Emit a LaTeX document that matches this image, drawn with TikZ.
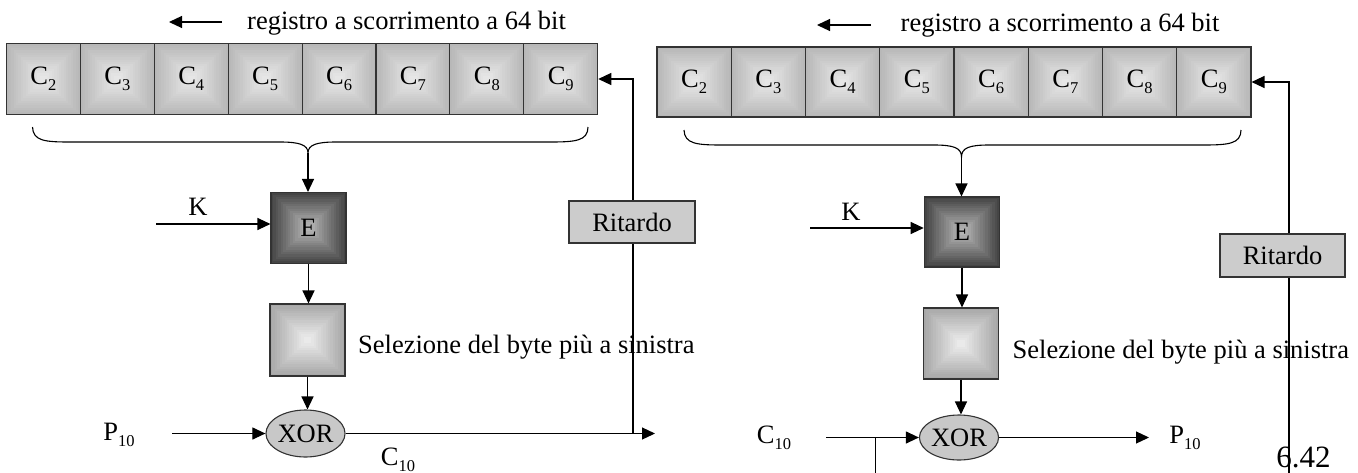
\documentclass[tikz,border=0pt]{standalone}
\usepackage{fontspec}
\setmainfont{Liberation Serif}
\usetikzlibrary{arrows.meta,calc,shapes.geometric}
\definecolor{regout}{HTML}{B8B8B8}
\definecolor{regin}{HTML}{E6E6E6}
\definecolor{eout}{HTML}{454545}
\definecolor{ein}{HTML}{B4B4B4}
\definecolor{selout}{HTML}{A8A8A8}
\definecolor{selin}{HTML}{EAEAEA}
\definecolor{ritfill}{HTML}{CCCCCC}
\definecolor{xorfill}{HTML}{C8C8C8}
\definecolor{edge}{HTML}{333333}
\newcommand\lsub[1]{\raisebox{-6pt}{\fontsize{16.5}{17}\selectfont #1}}
\tikzset{
  every node/.style={inner sep=0pt, font=\fontsize{26.5}{30}\selectfont},
  arr/.style={line width=1.2pt, -{Triangle[length=13pt,width=12pt]}},
  ln/.style={line width=1.2pt},
  pyr/.style n args={2}{path picture={
    \foreach \i in {0,...,14}{
      \pgfmathsetmacro\p{100*\i/14}
      \fill[#2!\p!#1] ($(path picture bounding box.south west)!{\i/31}!(path picture bounding box.north east)$) rectangle ($(path picture bounding box.north east)!{\i/31}!(path picture bounding box.south west)$);
    }}},
  regL/.style={draw=edge, line width=1.1pt, minimum width=73.9pt, minimum height=71pt, pyr={regout}{regin}},
  regR/.style={draw=edge, line width=1.1pt, minimum width=74.25pt, minimum height=70pt, pyr={regout}{regin}},
  ebox/.style={draw=edge, line width=1.1pt, minimum width=75pt, minimum height=71pt, pyr={eout}{ein}},
  selbox/.style={draw=edge, line width=1.1pt, minimum width=75pt, minimum height=72pt, pyr={selout}{selin}},
  ritbox/.style={draw=edge, line width=1.1pt, fill=ritfill, minimum width=126pt, minimum height=42pt},
  xorbox/.style={ellipse, draw=edge, line width=1.1pt, fill=xorfill, minimum width=73pt, minimum height=47pt},
  brace/.style={line width=1.1pt}
}
\begin{document}
\begin{tikzpicture}[x=1pt,y=-1pt]
\useasboundingbox (0,0) rectangle (1358,472);

% ================= LEFT PANEL =================
\coordinate (shaL1) at (222,22);
\coordinate (shaL2) at (169,22);
\draw[arr] (shaL1) -- (shaL2);
\node[anchor=west] (regtxtL) at (247,23) {registro a scorrimento a 64 bit};

\foreach \k [count=\i from 0] in {2,...,9}{
  \node[regL] (cL\k) at ({6.5+73.9*(\i+0.5)},79) {C\lsub{\k}};
}

\coordinate (brL) at (308,153);
\draw[brace] (32.5,127) .. controls (33,141) and (45,142) .. (70,142) -- (280,142)
  .. controls (300,142) and (308,145) .. (brL)
  .. controls (308,145) and (316,142) .. (336,142) -- (550,142)
  .. controls (575,142) and (588,141) .. (588,127);

\node[ebox] (EL) at (308.5,228) {E};
\node[selbox] (SL) at (307.5,340) {};
\node[anchor=west] (seltxtL) at (358,347) {Selezione del byte più a sinistra};
\node[xorbox] (XL) at (305.5,433.5) {XOR};

\draw[arr] (brL) -- (brL |- EL.north);
\draw[arr] (EL.south) -- (EL.south |- SL.north);
\draw[arr] (SL.south) -- (SL.south |- XL.north);

\node (KL) at (198,207) {K};
\coordinate (kinL) at (156,224);
\draw[arr] (kinL) -- (kinL -| EL.west);

\node (PL) at (119,435) {P\lsub{10}};
\coordinate (pinL) at (172,433.5);
\draw[arr] (pinL) -- (XL.west);

\coordinate (outL) at (655,433.5);
\coordinate (jL) at (633,433.5);
\draw[arr] (XL.east) -- (outL);
\draw[arr] (jL) |- (cL9.east);
\node[ritbox] (RL) at (632,222) {Ritardo};

\node[anchor=base] (CL) at (398,465) {C\lsub{10}};

% ================= RIGHT PANEL =================
\coordinate (shaR1) at (871,25);
\coordinate (shaR2) at (817,25);
\draw[arr] (shaR1) -- (shaR2);
\node[anchor=west] (regtxtR) at (900.5,25) {registro a scorrimento a 64 bit};

\foreach \k [count=\i from 0] in {2,...,9}{
  \node[regR] (cR\k) at ({657+74.25*(\i+0.5)},82) {C\lsub{\k}};
}

\coordinate (brR) at (961.5,157);
\draw[brace] (684,130) .. controls (684.5,144) and (697,145) .. (722,145) -- (934,145)
  .. controls (954,145) and (961.5,148) .. (brR)
  .. controls (961.5,148) and (969,145) .. (989,145) -- (1203,145)
  .. controls (1228,145) and (1241,144) .. (1241,130);

\node[ebox, minimum width=75.5pt, minimum height=70pt] (ER) at (962,232) {E};
\node[selbox, minimum width=74.5pt, minimum height=71pt] (SR) at (961,343.5) {};
\node[anchor=west] (seltxtR) at (1012.5,352) {Selezione del byte più a sinistra};
\node[xorbox, minimum width=72pt, minimum height=45pt] (XR) at (959,437.5) {XOR};

\draw[arr] (brR) -- (brR |- ER.north);
\draw[arr] (ER.south) -- (ER.south |- SR.north);
\draw[arr] (SR.south) -- (SR.south |- XR.north);

\node (KR) at (851,212) {K};
\coordinate (kinR) at (810,228);
\draw[arr] (kinR) -- (kinR -| ER.west);

\node (CR) at (774,438) {C\lsub{10}};
\coordinate (cinR) at (826,437.5);
\draw[arr] (cinR) -- (XR.west);
\coordinate (brchR) at (875.7,437.5);
\coordinate (brchEnd) at (875.7,480);
\draw[ln] (brchR) -- (brchEnd);

\coordinate (outR) at (1149,437.5);
\draw[arr] (XR.east) -- (outR);
\node (PR) at (1185,438) {P\lsub{10}};

\coordinate (fbR) at (1289,480);
\draw[arr] (fbR) |- (cR9.east);
\node[ritbox, minimum width=125pt, minimum height=43pt] (RR) at (1282.5,255.5) {Ritardo};

\node[anchor=base] (pg) at (1303.5,467.5) {\fontsize{31}{34}\selectfont 6.42};
\end{tikzpicture}
\end{document}
